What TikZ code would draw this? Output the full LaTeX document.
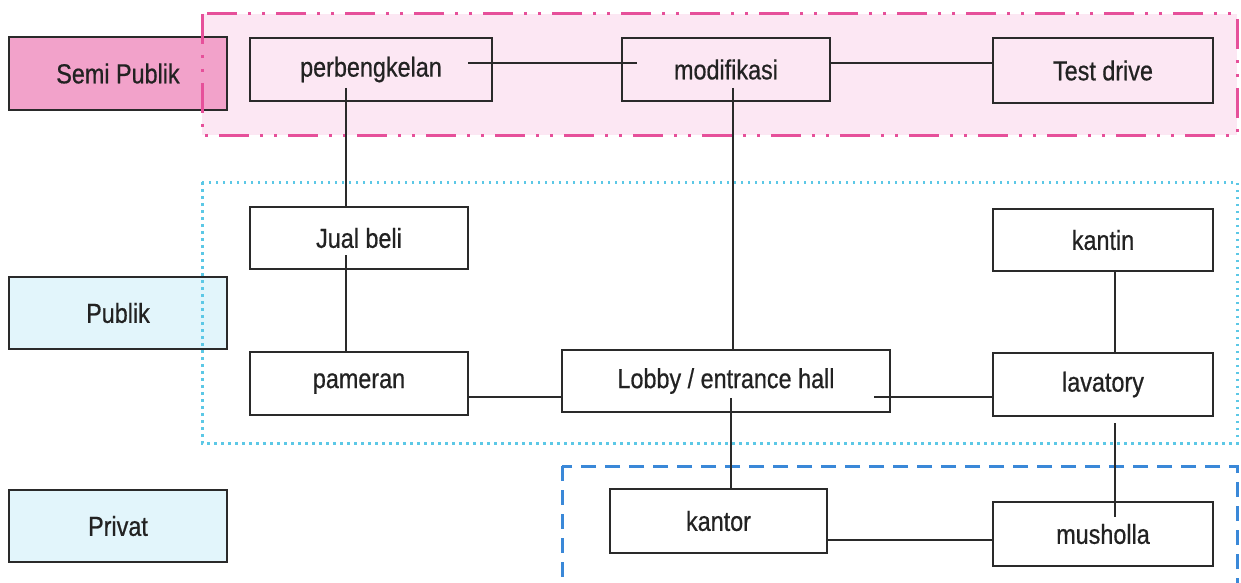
\documentclass[tikz,border=0pt]{standalone}
\usepackage{fontspec}
\newfontfamily\condsans{Liberation Sans}[FakeStretch=0.85,FakeBold=0.6]
\usetikzlibrary{calc}
\definecolor{pinkfill}{HTML}{FCE7F3}
\definecolor{pinkline}{HTML}{E6509A}
\definecolor{pinklabel}{HTML}{F2A2CA}
\definecolor{cyanline}{HTML}{5CC8E6}
\definecolor{cyanlabel}{HTML}{E2F5FB}
\definecolor{blueline}{HTML}{3A88D8}
\definecolor{boxline}{HTML}{2A2A2A}
\definecolor{txt}{HTML}{222222}
\tikzset{
  room/.style={draw=boxline, line width=2.6pt, fill=white, text=txt,
    font=\condsans\fontsize{27.5}{30}\selectfont, inner sep=0pt, anchor=center},
  zonelabel/.style={room},
  link/.style={draw=boxline, line width=1.9pt},
}
\begin{document}
\begin{tikzpicture}[x=1pt,y=-1pt]
\clip (0,0) rectangle (1241,583);
\fill[white] (0,0) rectangle (1241,583);
% zone fill
\fill[pinkfill] (202,14) rectangle (1237,135);
% zone labels
\node[zonelabel, fill=pinklabel, minimum width=218pt, minimum height=73pt] (semi) at (118,73.5) {Semi Publik};
\node[zonelabel, fill=cyanlabel, minimum width=218pt, minimum height=72pt] (publik) at (118,313) {Publik};
\node[zonelabel, fill=cyanlabel, minimum width=218pt, minimum height=72pt] (privat) at (118,526) {Privat};
% zone borders
\draw[pinkline, line width=3pt, dash pattern=on 30pt off 11pt on 3pt off 11pt on 3pt off 11pt] (202,14) rectangle (1237,135);
\draw[cyanline, line width=3pt, dash pattern=on 2.5pt off 4.5pt] (202,182) rectangle (1237,443);
\draw[blueline, line width=3pt, dash pattern=on 15pt off 9pt] (562,466) rectangle (1237,600);
% rooms
\node[room, fill=pinkfill, minimum width=242pt, minimum height=63pt] (perb) at (371,69.5) {perbengkelan};
\node[room, fill=pinkfill, minimum width=208pt, minimum height=63pt] (modi) at (726,69.5) {modifikasi};
\node[room, fill=pinkfill, minimum width=220pt, minimum height=65pt] (test) at (1103,70.5) {Test drive};
\node[room, minimum width=218pt, minimum height=62pt] (jual) at (359,238) {Jual beli};
\node[room, minimum width=220pt, minimum height=62pt] (kantin) at (1103,240) {kantin};
\node[room, minimum width=218pt, minimum height=63pt] (pameran) at (359,383.5) {pameran};
\node[room, minimum width=328pt, minimum height=62pt] (lobby) at (726,381) {Lobby / entrance hall};
\node[room, minimum width=220pt, minimum height=63pt] (lav) at (1103,384.5) {lavatory};
\node[room, minimum width=217pt, minimum height=64pt] (kantor) at (718.5,521) {kantor};
\node[room, minimum width=220pt, minimum height=64pt] (mush) at (1103,534) {musholla};
% connectors
\draw[link] ($(perb.center)+(97,-6.5)$) -- ($(modi.west)+(16,-6.5)$);
\draw[link] ($(modi.east)+(-2,-6.5)$) -- ($(test.west)+(0,-7.5)$);
\draw[link] ($(perb.center)+(-25,18.5)$) -- ($(jual.north)+(-13,0)$);
\draw[link] ($(jual.center)+(-13,17)$) -- ($(pameran.north)+(-13,0)$);
\draw[link] ($(modi.center)+(7,18.5)$) -- ($(lobby.north)+(7,0)$);
\draw[link] ($(pameran.east)+(0,13.5)$) -- ($(lobby.west)+(0,16)$);
\draw[link] ($(lobby.center)+(148,16)$) -- ($(lav.west)+(2,12.5)$);
\draw[link] ($(lobby.center)+(5,17)$) -- ($(kantor.north)+(12.5,0)$);
\draw[link] ($(kantin.south)+(12,0)$) -- ($(lav.north)+(12,0)$);
\draw[link] ($(lav.south)+(12,6)$) -- ($(mush.center)+(12,-17)$);
\draw[link] ($(kantor.east)+(0,19)$) -- ($(mush.west)+(2,6)$);
\end{tikzpicture}
\end{document}
